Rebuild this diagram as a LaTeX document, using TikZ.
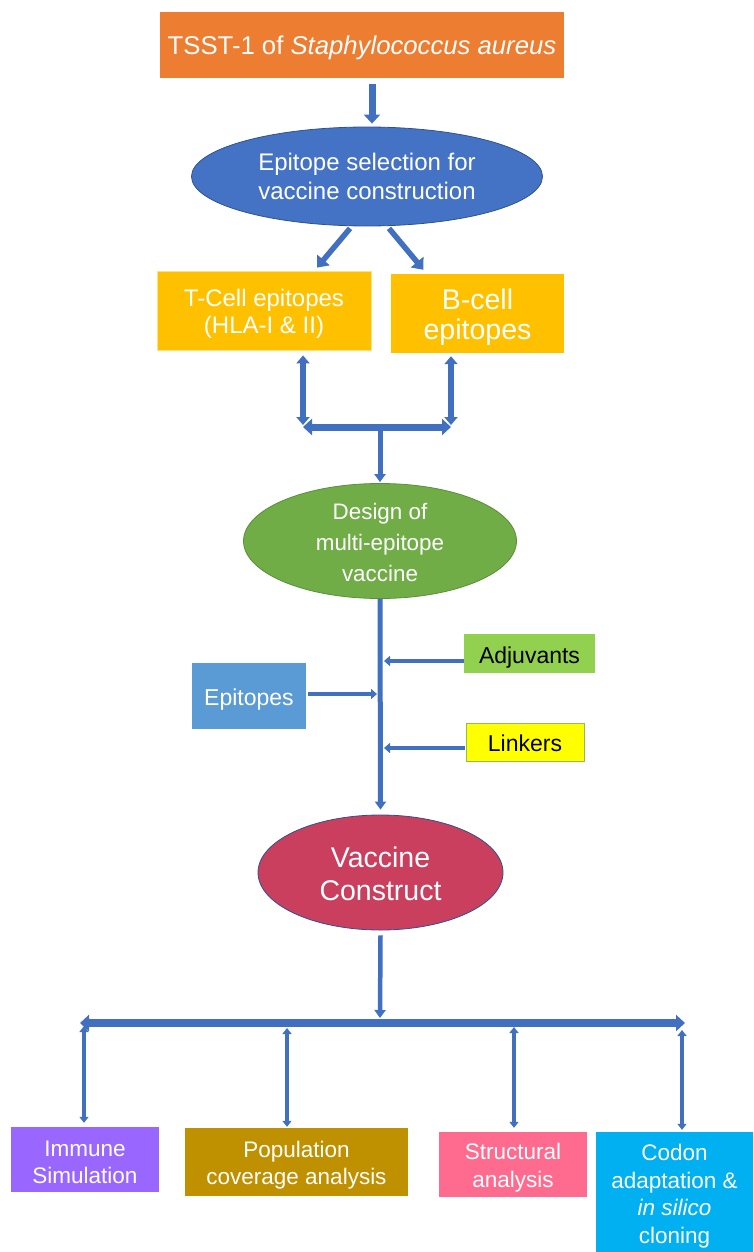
\documentclass[tikz,border=0pt]{standalone}
\usepackage{fontspec}
\setmainfont{Liberation Sans}
\usetikzlibrary{arrows.meta,shapes.geometric}
\newcommand{\tstrut}[1]{\rule{0pt}{#1}}
\definecolor{corange}{HTML}{ED7D31}
\definecolor{cblue}{HTML}{4472C4}
\definecolor{cedge}{HTML}{2F528F}
\definecolor{cyellow}{HTML}{FFC000}
\definecolor{cyellowedge}{HTML}{FFE08A}
\definecolor{cgreen}{HTML}{70AD47}
\definecolor{cgreenedge}{HTML}{5B8F3A}
\definecolor{cadj}{HTML}{92D050}
\definecolor{cepi}{HTML}{5B9BD5}
\definecolor{clink}{HTML}{FFFF00}
\definecolor{clinkedge}{HTML}{8FBC5A}
\definecolor{cred}{HTML}{CA3F5E}
\definecolor{cpurple}{HTML}{9966FF}
\definecolor{cgold}{HTML}{BF9000}
\definecolor{cpink}{HTML}{FF6B8E}
\definecolor{ccyan}{HTML}{00B0F0}
\definecolor{ablue}{HTML}{4170C0}
\tikzset{
  box/.style={rectangle, inner sep=0pt, align=center, text=white},
  ell/.style={ellipse, inner xsep=0pt, inner ysep=-10pt, align=center, text=white, draw=cedge, line width=0.8pt},
  toparrow/.style={draw=ablue, line width=7pt, -{Triangle[length=9pt,width=16pt]}},
  diagarrow/.style={draw=ablue, line width=5.5pt, -{Triangle[length=10pt,width=16pt]}},
  brvert/.style={draw=ablue, line width=6pt, {Triangle[length=8pt,width=13pt]}-{Triangle[length=8pt,width=13pt]}},
  brbar/.style={draw=ablue, line width=7pt, {Triangle[length=9pt,width=16pt]}-{Triangle[length=9pt,width=16pt]}},
  midarrow/.style={draw=ablue, line width=5pt, -{Triangle[length=8pt,width=11pt]}},
  sidearrow/.style={draw=ablue, line width=4.5pt, -{Triangle[length=6pt,width=10pt]}},
  bigbar/.style={draw=ablue, line width=8pt, {Triangle[length=9pt,width=16pt]}-{Triangle[length=9pt,width=16pt]}},
  botvert/.style={draw=ablue, line width=3.5pt, {Triangle[length=6pt,width=9pt]}-{Triangle[length=6pt,width=9pt]}},
  bottext/.style={font=\fontsize{22.5}{27.5}\selectfont},
}
\begin{document}
\begin{tikzpicture}[x=1pt,y=-1pt]
\useasboundingbox (0,0) rectangle (753,1252);

% nodes
\node[box, fill=corange, minimum width=404pt, minimum height=66pt, font=\fontsize{25.7}{30}\selectfont] (title) at (362,45) {\tstrut{24.5pt}TSST-1 of \textit{Staphylococcus aureus}};
\node[ell, fill=cblue, minimum width=351pt, minimum height=99pt, font=\fontsize{24}{29}\selectfont] (sel) at (367,176.5) {Epitope selection for\\vaccine construction};
\node[box, fill=cyellow, draw=cyellowedge, line width=0.8pt, minimum width=214pt, minimum height=79pt, font=\fontsize{24}{27}\selectfont] (tcell) at (264,310.5) {\tstrut{23.5pt}T-Cell epitopes\\(HLA-I \& II)};
\node[box, fill=cyellow, minimum width=173pt, minimum height=79pt, font=\fontsize{28.5}{30}\selectfont] (bcell) at (477.5,313.5) {\tstrut{27pt}B-cell\\epitopes};
\node[ell, fill=cgreen, draw=cgreenedge, minimum width=273pt, minimum height=115pt, font=\fontsize{22.4}{31}\selectfont] (design) at (380,541) {\tstrut{18.5pt}Design of\\multi-epitope\\vaccine};
\node[box, fill=cadj, text=black, minimum width=131pt, minimum height=39pt, font=\fontsize{23}{26}\selectfont] (adj) at (529.5,653.5) {\tstrut{23.8pt}Adjuvants};
\node[box, fill=cepi, minimum width=114pt, minimum height=66pt, font=\fontsize{23}{26}\selectfont] (epi) at (249,696) {\tstrut{24.5pt}Epitopes};
\node[box, fill=clink, draw=clinkedge, line width=0.8pt, text=black, minimum width=118pt, minimum height=38pt, font=\fontsize{23}{26}\selectfont] (link) at (525,742) {\tstrut{18.8pt}Linkers};
\node[ell, fill=cred, minimum width=245pt, minimum height=115pt, font=\fontsize{28.5}{33}\selectfont] (vac) at (380.5,872.5) {\tstrut{22.5pt}Vaccine\\Construct};
\node[box, fill=cpurple, minimum width=148pt, minimum height=65pt, bottext] (immune) at (85,1159.5) {\tstrut{21.4pt}Immune\\Simulation};
\node[box, fill=cgold, minimum width=223pt, minimum height=68pt, bottext] (pop) at (296.5,1162) {\tstrut{22.4pt}Population\\coverage analysis};
\node[box, fill=cpink, minimum width=148pt, minimum height=65pt, bottext] (struct) at (513,1164.5) {\tstrut{22.4pt}Structural\\analysis};
\node[box, fill=ccyan, minimum width=157pt, minimum height=120pt, font=\fontsize{22.5}{27.5}\selectfont] (codon) at (674.5,1192) {\tstrut{24.4pt}Codon\\adaptation \&\\\textit{in silico}\\cloning};

% junction coordinates
\coordinate (jl) at (303,427);
\coordinate (jr) at (451,427);
\coordinate (jm) at (380,428);
\coordinate (madj) at (384,661);
\coordinate (mepi) at (377,694);
\coordinate (mlink) at (384,748);
\coordinate (bl) at (80,1023);
\coordinate (br) at (685,1023);
\coordinate (bm) at (380,1018);
\coordinate (b1) at (84,1023);
\coordinate (b2) at (287,1023);
\coordinate (b3) at (514,1023);
\coordinate (b4) at (682,1023);

% connectors
\draw[toparrow] ([xshift=10pt,yshift=-6pt]title.south) -- ([xshift=5pt,yshift=3pt]sel.north);
\draw[diagarrow] ([xshift=-17pt,yshift=-2pt]sel.south) -- ([xshift=53pt,yshift=3pt]tcell.north);
\draw[diagarrow] ([xshift=22pt,yshift=-2pt]sel.south) -- ([xshift=-54pt,yshift=4pt]bcell.north);
\draw[brbar] (jl) -- (jr);
\draw[brvert] ([yshift=-5pt]tcell.south -| jl) -- ([yshift=2pt]jl);
\draw[brvert] ([yshift=-3pt]bcell.south -| jr) -- ([yshift=2pt]jr);
\draw[midarrow] ([yshift=-3pt]jm) -- ([yshift=1pt]design.north);
\draw[midarrow] (design.south) -- ([yshift=5pt]vac.north);
\draw[sidearrow] (adj.west |- madj) -- (madj);
\draw[sidearrow] ([xshift=2pt]epi.east |- mepi) -- (mepi);
\draw[sidearrow] ([xshift=-1pt]link.west |- mlink) -- (mlink);
\draw[midarrow, line width=4.5pt] ([yshift=-5pt]vac.south) -- (bm);
\draw[bigbar] (bl) -- (br);
\draw[botvert] ([yshift=-3pt]b1) -- ([yshift=4pt]b1 |- immune.north);
\draw[botvert] ([yshift=-5pt]b2) -- ([yshift=1pt]b2 |- pop.north);
\draw[botvert] ([yshift=-4pt]b3) -- ([yshift=4pt]b3 |- struct.north);
\draw[botvert] ([yshift=-7pt]b4) -- ([yshift=2pt]b4 |- codon.north);
\end{tikzpicture}
\end{document}
